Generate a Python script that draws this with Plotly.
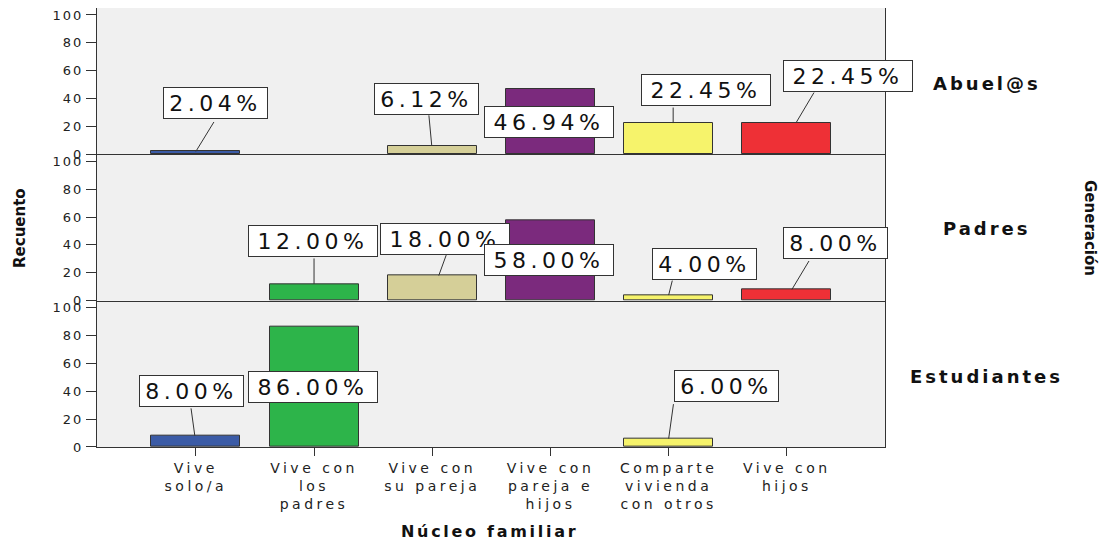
import plotly.graph_objects as go
from plotly.subplots import make_subplots

# ---------------- data ----------------
categories = ["Vive solo/a", "Vive con los padres", "Vive con su pareja",
              "Vive con pareja e hijos", "Comparte vivienda con otros", "Vive con hijos"]
tick_lines = [["Vive", "solo/a"], ["Vive con", "los", "padres"], ["Vive con", "su pareja"],
              ["Vive con", "pareja e", "hijos"], ["Comparte", "vivienda", "con otros"],
              ["Vive con", "hijos"]]
generations = ["Abuel@s", "Padres", "Estudiantes"]
pct_abuelos = [2.04, 0, 6.12, 46.94, 22.45, 22.45]
pct_padres = [0, 12.00, 18.00, 58.00, 4.00, 8.00]
pct_estudiantes = [8.00, 86.00, 0, 0, 6.00, 0]
y_ticks = [0, 20, 40, 60, 80, 100]

# ---------------- style ----------------
bar_colors = ["#3b5ba6", "#2db44a", "#d5cf98", "#7b2a7d", "#f6f36b", "#ee3036"]
FONT = "DejaVu Sans"
series = [pct_abuelos, pct_padres, pct_estudiantes]

# label placement (pixel offsets): (box_dx, box_dy, head_dx, tail_dx, tail_dy) or "in"
label_place = {
    (0, 0): (19.5, -48, 0, 19, -31),
    (0, 2): (-5.5, -46.5, -0.5, -3, -32),
    (0, 3): "in",
    (0, 4): (37.5, -33, 4.5, 0, -17),
    (0, 5): (61.5, -47.3, 9, 19, -32),
    (1, 1): (-1.5, -42.8, 0, 0, -27),
    (1, 2): (13, -37, 6.5, 8, -22),
    (1, 3): "in",
    (1, 4): (36, -31.4, 0, 4, -16),
    (1, 5): (49, -47, 5, 18, -30),
    (2, 0): (-4, -44.4, -1, -4, -29),
    (2, 1): "in",
    (2, 4): (57.5, -52.7, 0, 5, -36),
}


def sp(txt, ls):
    return "<span style='letter-spacing:%spx'>%s</span>" % (ls, txt)


fig = make_subplots(rows=3, cols=1, shared_xaxes=True, vertical_spacing=0)
xpos = list(range(len(categories)))

for r, vals in enumerate(series):
    fig.add_trace(go.Bar(
        x=[x for x, v in zip(xpos, vals) if v > 0],
        y=[v for v in vals if v > 0],
        marker=dict(color=[c for c, v in zip(bar_colors, vals) if v > 0],
                    line=dict(color="#333333", width=1)),
        width=0.753, showlegend=False, hoverinfo="skip"),
        row=r + 1, col=1)

annotations = []
for r, vals in enumerate(series):
    xr = "x" if r == 0 else "x%d" % (r + 1)
    yr = "y" if r == 0 else "y%d" % (r + 1)
    for c, v in enumerate(vals):
        if v <= 0:
            continue
        txt = "%.2f%%" % v
        place = label_place[(r, c)]
        boxw = 103 if len(txt) == 5 else 128
        common = dict(xref=xr, yref=yr, text=sp(txt, 4.5), showarrow=False,
                      xanchor="center", yanchor="middle",
                      font=dict(family=FONT, size=22, color="#111111"),
                      bgcolor="#ffffff", bordercolor="#333333", borderwidth=1,
                      borderpad=0, width=boxw, height=30, align="center")
        if place == "in":
            annotations.append(dict(x=c, y=v / 2, xshift=-1, **common))
        else:
            bdx, bdy, hdx, tdx, tdy = place
            annotations.append(dict(xref=xr, yref=yr, x=c, y=v, xshift=hdx, text="",
                                    showarrow=True, arrowhead=0, arrowwidth=1,
                                    arrowcolor="#333333", ax=tdx, ay=tdy,
                                    standoff=0, startstandoff=0))
            annotations.append(dict(x=c, y=v, xshift=bdx, yshift=-bdy, **common))

# panel labels
panel_y = [0.827, 0.4966, 0.1595]
lab = dict(xref="paper", yref="paper", showarrow=False, xanchor="center", yanchor="middle")
for g, py in zip(generations, panel_y):
    annotations.append(dict(x=1.1294, y=py, text=sp("<b>%s</b>" % g, 3),
                            font=dict(family=FONT, size=18, color="#111111"), **lab))
annotations.append(dict(x=1.26, y=0.499, text="<b>Generación</b>", textangle=90,
                        font=dict(family=FONT, size=15, color="#111111"), **lab))
annotations.append(dict(x=-0.0977, y=0.499, text="<b>Recuento</b>", textangle=-90,
                        font=dict(family=FONT, size=15, color="#111111"), **lab))
annotations.append(dict(x=0.4987, y=-0.1936, text=sp("<b>Núcleo familiar</b>", 2.7),
                        font=dict(family=FONT, size=16, color="#111111"), **lab))

for r in range(3):
    fig.update_yaxes(range=[0, 105], tickvals=y_ticks, ticktext=[sp(str(t), 2) for t in y_ticks],
                     ticks="outside", ticklen=10, tickcolor="#333333", showline=True,
                     linecolor="#333333", linewidth=1, mirror=True, showgrid=False, zeroline=False,
                     ticklabeloverflow="allow",
                     tickfont=dict(family=FONT, size=13, color="#222222"), row=r + 1, col=1)
    fig.update_xaxes(range=[-0.836, 5.83], tickvals=xpos, showline=True, linecolor="#333333",
                     linewidth=1, showgrid=False, zeroline=False, row=r + 1, col=1,
                     ticks="outside" if r == 2 else "", ticklen=8, tickcolor="#333333",
                     showticklabels=(r == 2),
                     ticktext=["<br>".join(sp(l, 3.5) for l in lines) for lines in tick_lines],
                     tickfont=dict(family=FONT, size=14, color="#222222"))

# page body has an 8px margin: figure is drawn offset by (8, 8)
fig.update_layout(width=1107, height=536, margin=dict(l=89, r=230, t=0, b=97),
                  paper_bgcolor="#ffffff", plot_bgcolor="#f0f0f0", bargap=0,
                  annotations=annotations, font=dict(family=FONT))

fig.write_html("out.html")
